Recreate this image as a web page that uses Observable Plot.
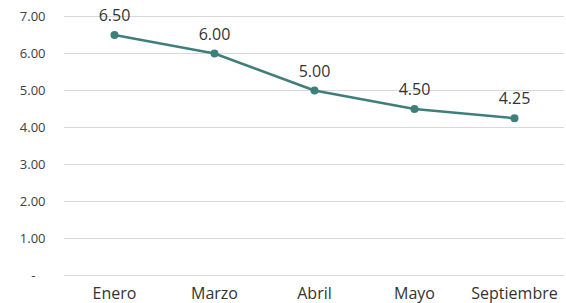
<!DOCTYPE html>
<html>
<head>
<meta charset="utf-8">
<script src="https://cdn.jsdelivr.net/npm/d3@7"></script>
<script src="https://cdn.jsdelivr.net/npm/@observablehq/plot@0.6"></script>
<style>
  html, body { margin: 0; padding: 0; background: #fff; overflow: hidden; }
  #chart svg { display: block; }
</style>
</head>
<body>
<div id="chart"></div>
<script>
const months = ["Enero", "Marzo", "Abril", "Mayo", "Septiembre"];
const values = [6.50, 6.00, 5.00, 4.50, 4.25];
const yTicks = [0, 1, 2, 3, 4, 5, 6, 7];

const data = months.map((m, i) => ({month: m, value: values[i]}));
const font = "'Open Sans', 'DejaVu Sans', sans-serif";
const teal = "#3f7f7b";

const chart = Plot.plot({
  width: 566,
  height: 303,
  marginLeft: 64,
  marginRight: 2,
  marginTop: 16,
  marginBottom: 28,
  style: {fontFamily: font, fontSize: "13px", color: "#404040", background: "#fff"},
  x: {type: "point", domain: months, padding: 0.5, label: null, tickSize: 0, tickPadding: 12},
  y: {domain: [0, 7], ticks: yTicks, label: null, tickSize: 0, tickPadding: 19,
      tickFormat: d => d === 0 ? "-\u00a0\u00a0\u00a0" : d.toFixed(2)},
  marks: [
    Plot.gridY(yTicks, {stroke: "#d9d9d9", strokeOpacity: 1, strokeWidth: 1}),
    Plot.line(data, {x: "month", y: "value", stroke: teal, strokeWidth: 2.5}),
    Plot.dot(data, {x: "month", y: "value", fill: teal, r: 4}),
    Plot.text(data, {x: "month", y: "value", text: d => d.value.toFixed(2), dy: -19,
      fill: "#333", fontSize: 16, fontFamily: font})
  ]
});
chart.querySelectorAll("[aria-label='x-axis tick label'] text").forEach(t => {
  t.setAttribute("font-size", "16");
  t.setAttribute("fill", "#333");
});
document.getElementById("chart").appendChild(chart);
</script>
</body>
</html>
